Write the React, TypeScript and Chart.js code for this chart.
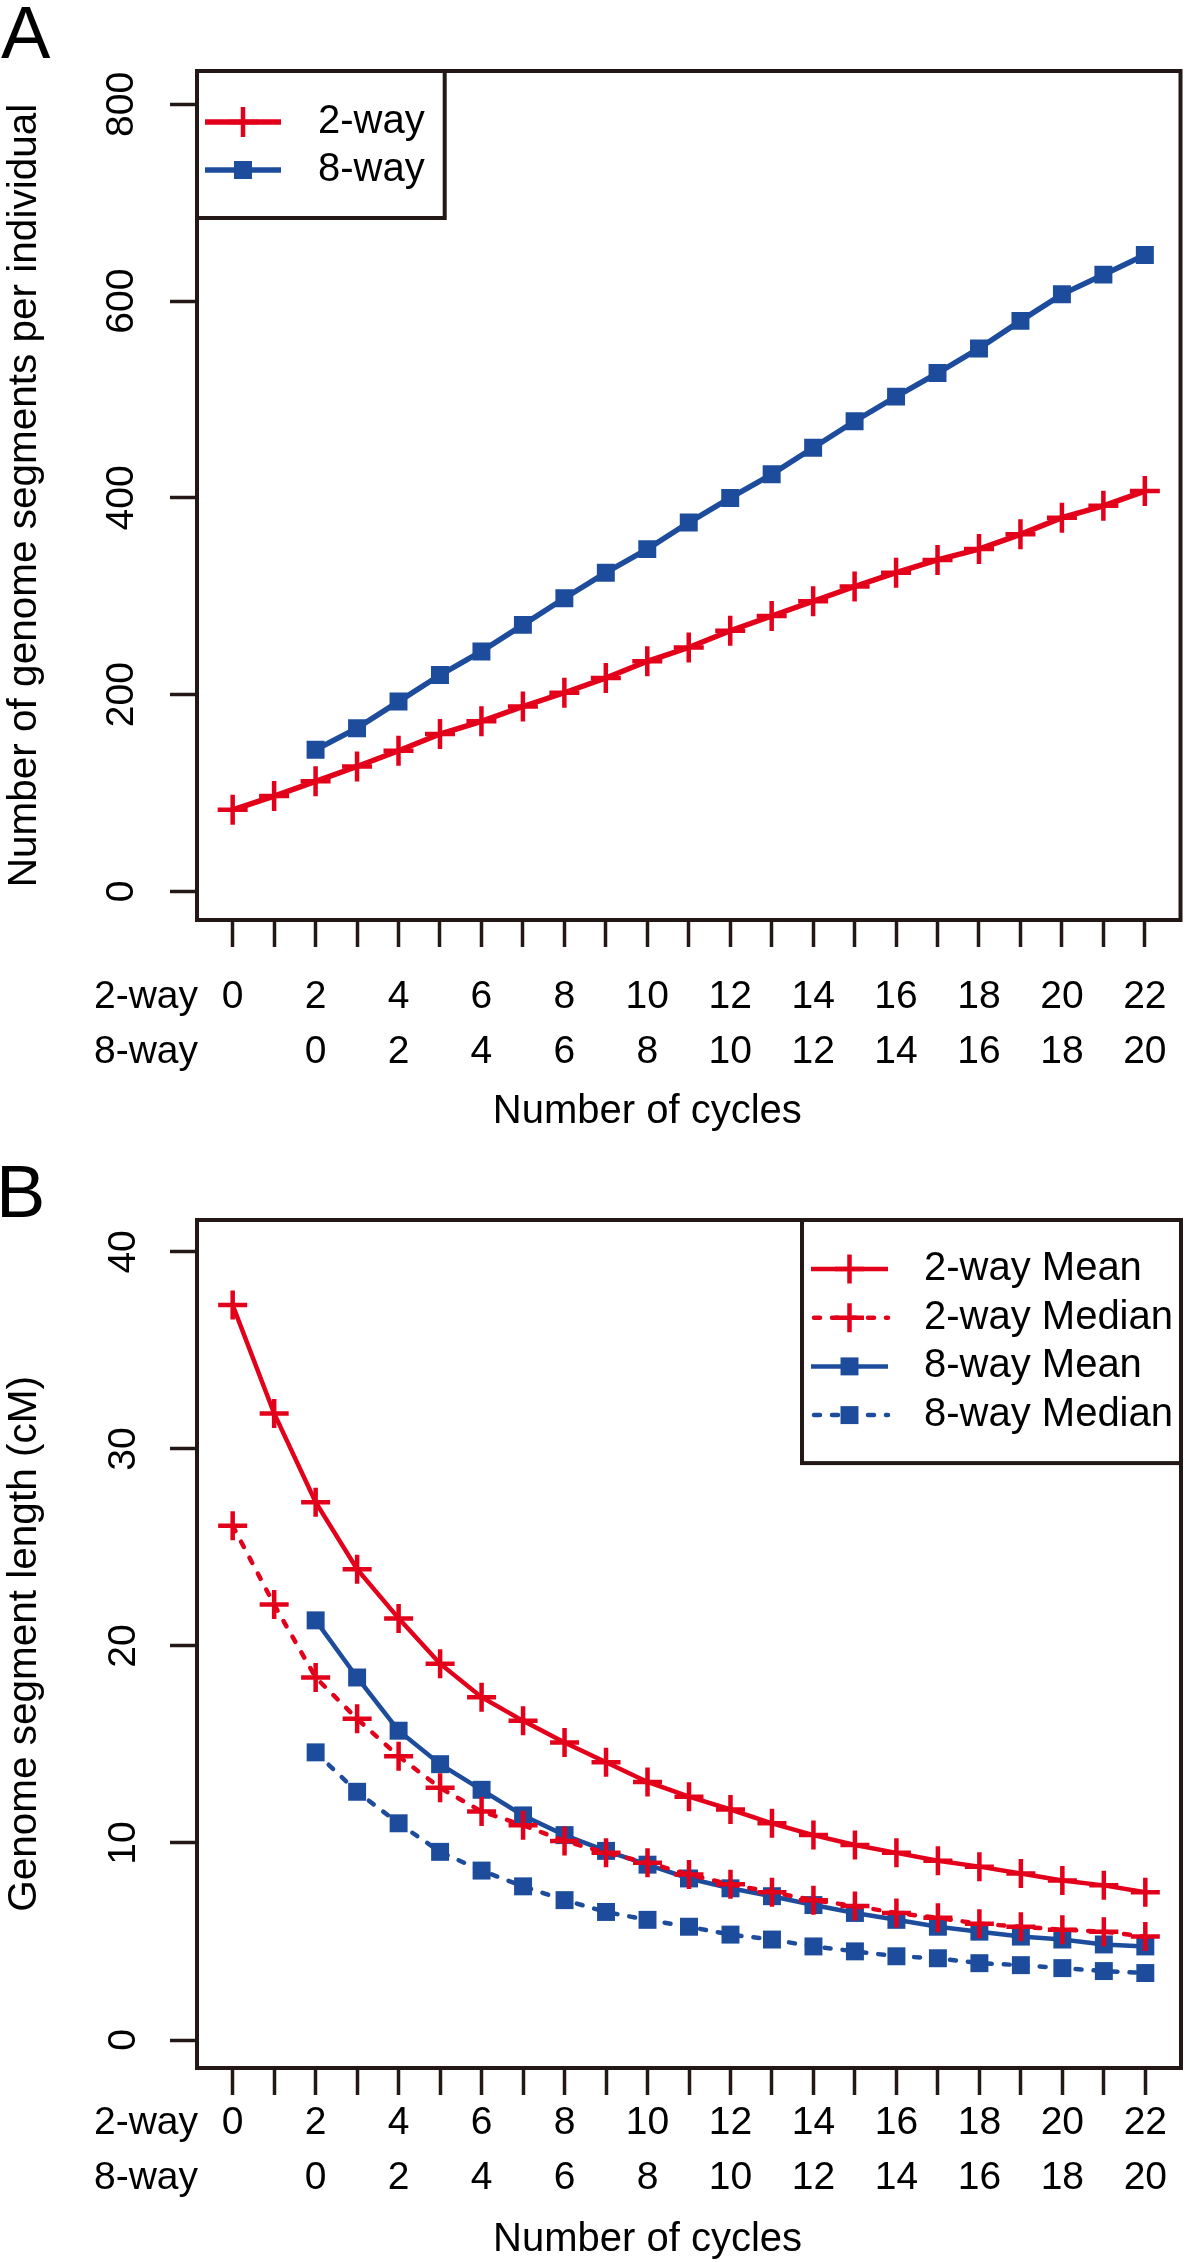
import React, { useEffect, useRef } from 'react';
import { Chart, registerables } from 'chart.js';

Chart.register(...registerables);

// ---------------- data ----------------
const cycles = [0, 1, 2, 3, 4, 5, 6, 7, 8, 9, 10, 11, 12, 13, 14, 15, 16, 17, 18, 19, 20, 21, 22];
const xLabels2way = ['0', '', '2', '', '4', '', '6', '', '8', '', '10', '', '12', '', '14', '', '16', '', '18', '', '20', '', '22'];
const xLabels8way = ['', '', '0', '', '2', '', '4', '', '6', '', '8', '', '10', '', '12', '', '14', '', '16', '', '18', '', '20'];
const xRowNames = ['2-way', '8-way'];
const xTitle = 'Number of cycles';
const xTitleAt = 10;

// Panel A: number of genome segments per individual
const segCountTicks = [0, 200, 400, 600, 800];
const segCount2way = [83, 97, 112, 127, 143, 160, 173, 188, 202, 217, 234, 248, 265, 280, 295, 310, 324, 337, 348, 363, 380, 392, 407];
const segCount8way = [null, null, 144, 166, 193, 220, 244, 271, 298, 324, 348, 375, 400, 424, 451, 478, 503, 527, 552, 580, 607, 627, 647];

// Panel B: genome segment length (cM)
const segLenTicks = [0, 10, 20, 30, 40];
const segLen2wayMean = [37.3, 31.8, 27.3, 23.9, 21.4, 19.1, 17.4, 16.2, 15.1, 14.1, 13.1, 12.35, 11.7, 11.0, 10.4, 9.9, 9.5, 9.1, 8.8, 8.45, 8.1, 7.85, 7.5];
const segLen2wayMedian = [26.1, 22.1, 18.4, 16.3, 14.4, 12.8, 11.6, 10.9, 10.1, 9.5, 9.0, 8.4, 7.9, 7.5, 7.1, 6.8, 6.45, 6.2, 5.9, 5.75, 5.6, 5.5, 5.25];
const segLen8wayMean = [null, null, 21.3, 18.4, 15.7, 14.0, 12.7, 11.4, 10.4, 9.6, 8.9, 8.2, 7.7, 7.3, 6.85, 6.45, 6.1, 5.75, 5.5, 5.25, 5.1, 4.85, 4.75];
const segLen8wayMedian = [null, null, 14.6, 12.6, 11.0, 9.55, 8.6, 7.8, 7.1, 6.5, 6.1, 5.75, 5.35, 5.1, 4.75, 4.5, 4.25, 4.15, 3.9, 3.8, 3.65, 3.5, 3.4];

// ---------------- styles ----------------
const FONT = '"Liberation Sans", Arial, Helvetica, sans-serif';
const INK = '#231815';
const RED = '#E3001B';
const BLUE = '#1D4C9C';
const TICK_LEN = 27;
const X_LINE_H = 55;
const TICK_FONT = 39;

function toPoints(values: (number | null)[]) {
  return cycles
    .map((c, i) => ({ x: c, y: values[i] }))
    .filter((p) => p.y !== null && p.y !== undefined);
}

type SeriesDef = {
  label: string;
  values: (number | null)[];
  color: string;
  dashed: boolean;
  marker: 'cross' | 'rect';
};

function makeDataset(s: SeriesDef, lineWidth: number, crossRadius: number) {
  const isCross = s.marker === 'cross';
  const r = isCross ? crossRadius : 12.7;
  return {
    label: s.label,
    data: toPoints(s.values),
    borderColor: s.color,
    backgroundColor: s.color,
    borderWidth: lineWidth,
    borderDash: s.dashed ? [6, 12] : [],
    borderCapStyle: s.dashed ? 'round' : 'butt',
    tension: 0,
    fill: false,
    pointStyle: s.marker,
    pointRadius: r,
    pointHoverRadius: r,
    pointBorderWidth: isCross ? 4.5 : 0,
    pointHoverBorderWidth: isCross ? 4.5 : 0,
    pointBorderColor: s.color,
    pointBackgroundColor: s.color,
  };
}

// ---------------- plugins ----------------
const framePlugin = {
  id: 'frame',
  afterDraw(chart: any) {
    const { ctx, chartArea } = chart;
    ctx.save();
    ctx.strokeStyle = INK;
    ctx.lineWidth = 4;
    ctx.strokeRect(chartArea.left, chartArea.top, chartArea.right - chartArea.left, chartArea.bottom - chartArea.top);
    ctx.restore();
  },
};

const legendBoxPlugin = {
  id: 'legendBox',
  afterDraw(chart: any, _args: any, opts: any) {
    const { ctx, chartArea } = chart;
    const ds = chart.data.datasets;
    ctx.save();
    ctx.font = `${opts.fontSize}px ${FONT}`;
    let textW = 0;
    ds.forEach((d: any) => {
      textW = Math.max(textW, ctx.measureText(d.label).width);
    });
    const width = opts.textOffset + textW + opts.rightPad;
    const height = opts.firstRow + (ds.length - 1) * opts.rowGap + opts.bottomPad;
    const left = opts.corner === 'topright' ? chartArea.right - width : chartArea.left;
    const top = chartArea.top;
    ctx.fillStyle = '#ffffff';
    ctx.fillRect(left, top, width, height);
    ctx.strokeStyle = INK;
    ctx.lineWidth = 4;
    ctx.strokeRect(left, top, width, height);
    ds.forEach((d: any, i: number) => {
      const y = top + opts.firstRow + i * opts.rowGap;
      const x0 = left + opts.sampleInset;
      const x1 = x0 + opts.sampleLength;
      const xc = (x0 + x1) / 2;
      ctx.save();
      ctx.strokeStyle = d.borderColor;
      ctx.lineWidth = d.borderWidth;
      ctx.lineCap = d.borderCapStyle;
      ctx.setLineDash(d.borderDash || []);
      ctx.lineDashOffset = -3;
      ctx.beginPath();
      ctx.moveTo(x0, y);
      ctx.lineTo(x1, y);
      ctx.stroke();
      ctx.restore();
      ctx.save();
      if (d.pointStyle === 'cross') {
        ctx.strokeStyle = d.pointBorderColor;
        ctx.lineWidth = d.pointBorderWidth;
        ctx.beginPath();
        ctx.moveTo(xc - d.pointRadius, y);
        ctx.lineTo(xc + d.pointRadius, y);
        ctx.moveTo(xc, y - d.pointRadius);
        ctx.lineTo(xc, y + d.pointRadius);
        ctx.stroke();
      } else {
        const half = d.pointRadius * Math.SQRT1_2;
        ctx.fillStyle = d.pointBackgroundColor;
        ctx.fillRect(xc - half, y - half, half * 2, half * 2);
      }
      ctx.restore();
      ctx.fillStyle = '#000000';
      ctx.textAlign = 'left';
      ctx.textBaseline = 'middle';
      ctx.fillText(d.label, left + opts.textOffset, y);
    });
    ctx.restore();
  },
};

const axisExtrasPlugin = {
  id: 'axisExtras',
  afterDraw(chart: any, _args: any, opts: any) {
    const { ctx, chartArea, scales } = chart;
    ctx.save();
    ctx.fillStyle = '#000000';
    ctx.font = `${TICK_FONT}px ${FONT}`;
    ctx.textAlign = 'right';
    ctx.textBaseline = 'middle';
    xRowNames.forEach((name, i) => {
      ctx.fillText(name, chartArea.left + 1, chartArea.bottom + opts.rowStart + i * X_LINE_H);
    });
    ctx.font = `40px ${FONT}`;
    ctx.textAlign = 'center';
    ctx.fillText(xTitle, scales.x.getPixelForValue(xTitleAt), chartArea.bottom + opts.titleOffset);
    ctx.restore();
  },
};

// ---------------- panel ----------------
type PanelProps = {
  top: number;
  height: number;
  chartTop: number;
  chartBottom: number;
  series: SeriesDef[];
  lineWidth: number;
  crossRadius: number;
  yMin: number;
  yMax: number;
  yTicks: number[];
  yTitle: string;
  yTickPad: number;
  xTickPad: number;
  titleOffset: number;
  legend: any;
};

function PanelChart(p: PanelProps) {
  const ref = useRef<HTMLCanvasElement | null>(null);
  useEffect(() => {
    if (!ref.current) return;
    const datasets = p.series.map((s) => makeDataset(s, p.lineWidth, p.crossRadius));
    const gridOpts = {
      display: true,
      drawOnChartArea: false,
      drawTicks: true,
      tickLength: TICK_LEN,
      tickWidth: 3.5,
      tickColor: INK,
    };
    const chart = new Chart(ref.current, {
      type: 'line',
      data: { datasets } as any,
      options: {
        responsive: false,
        animation: false,
        devicePixelRatio: 1,
        events: [],
        layout: { padding: { top: p.chartTop, right: 5, left: 0, bottom: 0 } },
        plugins: {
          legend: { display: false },
          tooltip: { enabled: false },
          legendBox: p.legend,
          axisExtras: { rowStart: TICK_LEN + p.xTickPad + X_LINE_H / 2, titleOffset: p.titleOffset },
        } as any,
        scales: {
          x: {
            type: 'linear',
            position: 'bottom',
            min: -0.86,
            max: 22.86,
            afterBuildTicks: (s: any) => {
              s.ticks = cycles.map((v) => ({ value: v }));
            },
            afterFit: (s: any) => {
              s.height = p.height - p.chartBottom;
            },
            grid: gridOpts,
            border: { display: false },
            ticks: {
              autoSkip: false,
              maxRotation: 0,
              minRotation: 0,
              padding: p.xTickPad,
              color: '#000000',
              font: { family: FONT, size: TICK_FONT, lineHeight: X_LINE_H / TICK_FONT },
              callback: (v: any) => {
                const i = cycles.indexOf(Number(v));
                return i < 0 ? '' : [xLabels2way[i], xLabels8way[i]];
              },
            },
            title: { display: false },
          },
          y: {
            type: 'linear',
            min: p.yMin,
            max: p.yMax,
            afterBuildTicks: (s: any) => {
              s.ticks = p.yTicks.map((v) => ({ value: v }));
            },
            afterFit: (s: any) => {
              s.width = 197;
            },
            grid: gridOpts,
            border: { display: false },
            ticks: {
              autoSkip: false,
              minRotation: 90,
              maxRotation: 90,
              crossAlign: 'center',
              padding: p.yTickPad,
              color: '#000000',
              font: { family: FONT, size: TICK_FONT },
              callback: (v: any) => String(v),
            },
            title: {
              display: true,
              text: p.yTitle,
              color: '#000000',
              font: { family: FONT, size: 40.5, lineHeight: 1.2 },
              padding: { top: 1, bottom: 0 },
            },
          },
        },
      } as any,
      plugins: [framePlugin, legendBoxPlugin, axisExtrasPlugin],
    });
    return () => chart.destroy();
  }, []);
  return (
    <canvas
      ref={ref}
      width={1200}
      height={p.height}
      style={{ position: 'absolute', left: 0, top: p.top, width: 1200, height: p.height, display: 'block' }}
    />
  );
}

const panelASeries: SeriesDef[] = [
  { label: '2-way', values: segCount2way, color: RED, dashed: false, marker: 'cross' },
  { label: '8-way', values: segCount8way, color: BLUE, dashed: false, marker: 'rect' },
];

const panelBSeries: SeriesDef[] = [
  { label: '2-way Mean', values: segLen2wayMean, color: RED, dashed: false, marker: 'cross' },
  { label: '2-way Median', values: segLen2wayMedian, color: RED, dashed: true, marker: 'cross' },
  { label: '8-way Mean', values: segLen8wayMean, color: BLUE, dashed: false, marker: 'rect' },
  { label: '8-way Median', values: segLen8wayMedian, color: BLUE, dashed: true, marker: 'rect' },
];

export default function App() {
  const letter = { position: 'absolute' as const, fontFamily: FONT, fontSize: 74, lineHeight: '74px', color: '#000' };
  return (
    <div style={{ position: 'absolute', left: 0, top: 0, width: 1200, height: 2262, background: '#fff', overflow: 'hidden' }}>
      <PanelChart
        top={0}
        height={1150}
        chartTop={71}
        chartBottom={920}
        series={panelASeries}
        lineWidth={5.5}
        crossRadius={15}
        yMin={-29}
        yMax={834}
        yTicks={segCountTicks}
        yTitle="Number of genome segments per individual"
        yTickPad={15}
        xTickPad={22.5}
        titleOffset={192}
        legend={{ corner: 'topleft', fontSize: 40, sampleInset: 8, sampleLength: 76, textOffset: 121, rightPad: 20, firstRow: 51, rowGap: 48, bottomPad: 48 }}
      />
      <PanelChart
        top={1150}
        height={1112}
        chartTop={70}
        chartBottom={918}
        series={panelBSeries}
        lineWidth={4.5}
        crossRadius={14.5}
        yMin={-1.42}
        yMax={41.62}
        yTicks={segLenTicks}
        yTitle="Genome segment length (cM)"
        yTickPad={24}
        xTickPad={0.5}
        titleOffset={172}
        legend={{ corner: 'topright', fontSize: 40, sampleInset: 9, sampleLength: 77, textOffset: 122, rightPad: 8, firstRow: 49, rowGap: 48.7, bottomPad: 48 }}
      />
      <div style={{ ...letter, left: 1, top: -4 }}>A</div>
      <div style={{ ...letter, left: -4, top: 1155 }}>B</div>
    </div>
  );
}
